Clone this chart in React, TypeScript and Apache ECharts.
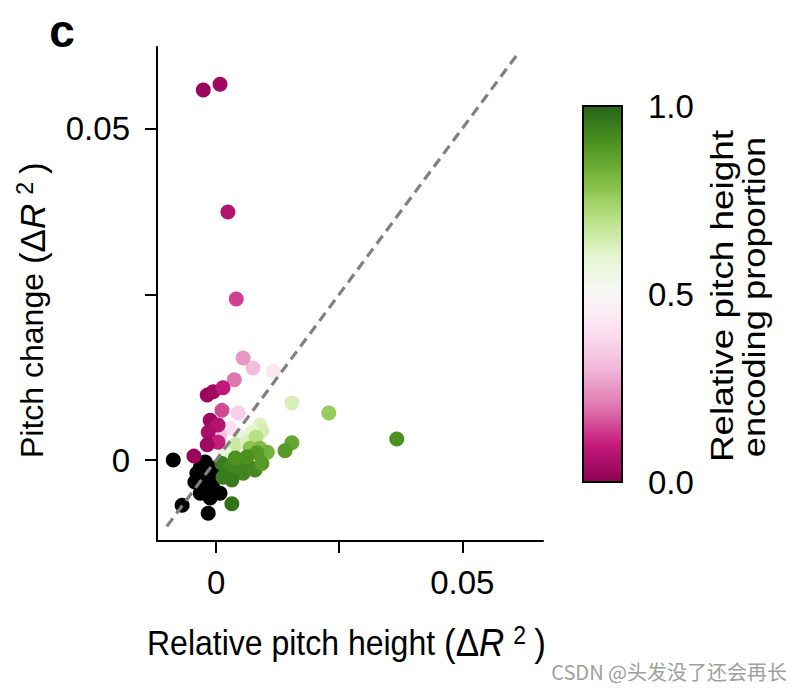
import React, { useEffect, useRef } from 'react';
import * as echarts from 'echarts';

// ---- axis ticks / limits ----
const xTickValues = [0, 0.025, 0.05];
const xLabelValues = [0, 0.05];
const yTickValues = [0, 0.025, 0.05];
const yLabelValues = [0, 0.05];
const xLimits = [-0.012, 0.0664];
const yLimits = [-0.0122, 0.0623];
const cbTickValues = [0, 0.5, 1];

// ---- significant points: relative pitch height, pitch change, encoding proportion ----
const colX = [
  0.0116, 0.0075, 0.0055, 0.0045, 0.0028, 0.0008, 0.0037,
  0.0154, 0.0089, 0.0093, 0.0073, 0.0053, 0.0039, 0.0018, 0.0063, 0.0081,
  -0.0026, 0.0008, 0.0024, 0.0041, -0.0018, -0.0006, 0.0014, 0.0012,
  -0.0012, 0.0004, -0.0016, 0.0004, -0.0018, -0.0045,
  0.0229, 0.0367, 0.0154, 0.0140, 0.0093, 0.0089, 0.0104, 0.0069,
  0.0055, 0.0069, 0.0022, 0.0045, 0.0012, 0.0028, 0.0014, 0.0055,
  0.0083, 0.0032, 0.0039, 0.0063, 0.0079, 0.0032, 0.0093,
];
const colY = [
  0.0134, 0.0139, 0.0154, 0.0071, 0.0048, 0.0038, 0.0121,
  0.0086, 0.0053, 0.0044, 0.0042, 0.0033, 0.0023, 0.0011, 0.0027, 0.0035,
  0.0558, 0.0567, 0.0374, 0.0243, 0.0098, 0.0103, 0.0109, 0.0075,
  0.0060, 0.0053, 0.0042, 0.0027, 0.0023, 0.0006,
  0.0071, 0.0032, 0.0026, 0.0014, 0.0011, 0.0018, 0.0012, 0.0018,
  0.0000, -0.0011, -0.0015, -0.0015, -0.0005, -0.0011, -0.0026, -0.0020,
  0.0011, -0.0066, 0.0003, 0.0005, -0.0015, -0.0030, -0.0005,
];
const colP = [
  0.44, 0.32, 0.25, 0.36, 0.40, 0.33, 0.20,
  0.63, 0.62, 0.64, 0.60, 0.58, 0.66, 0.58, 0.62, 0.70,
  0.02, 0.03, 0.07, 0.14, 0.02, 0.03, 0.09, 0.15,
  0.03, 0.07, 0.05, 0.10, 0.03, 0.02,
  0.76, 0.90, 0.85, 0.88, 0.83, 0.80, 0.82, 0.78,
  0.92, 0.93, 0.94, 0.92, 0.95, 0.93, 0.95, 0.93,
  0.88, 0.97, 0.90, 0.90, 0.92, 0.95, 0.88,
];

// ---- non-significant points (black) ----
const nsX = [-0.0087, -0.0022, -0.0032, -0.0039, -0.0016, -0.0006, -0.0026, -0.0006, -0.0032, 0.0008, -0.0012, -0.0069, -0.0016, -0.0002, -0.0022, -0.0043];
const nsY = [0.0000, -0.0003, -0.0011, -0.0020, -0.0018, -0.0026, -0.0035, -0.0042, -0.0050, -0.0050, -0.0057, -0.0068, -0.0080, -0.0012, -0.0045, -0.0033];

// ---- identity line ----
const diagX = [-0.0100, 0.0614];
const diagY = [-0.0100, 0.0614];

// PiYG colormap
const piyg = ['#8e0152', '#c51b7d', '#de77ae', '#f1b6da', '#fde0ef', '#f7f7f7', '#e6f5d0', '#b8e186', '#7fbc41', '#4d9221', '#276419'];

const FONT = "'Liberation Sans', Arial, Helvetica, sans-serif";

export default function App() {
  const ref = useRef<HTMLDivElement>(null);
  useEffect(() => {
    if (!ref.current) return;
    const chart = echarts.init(ref.current, null, { renderer: 'svg' });
    const axisLine = { show: true, onZero: false, lineStyle: { color: '#000', width: 2 } };
    const tickLine = { color: '#000', width: 2 };
    const labelStyle = { fontSize: 33, color: '#000', fontFamily: FONT };
    const rich = {
      m: { fontSize: 35, fontFamily: FONT, lineHeight: 38 },
      i: { fontSize: 35, fontFamily: FONT, fontStyle: 'italic', lineHeight: 38 },
      s: { fontSize: 23, fontFamily: FONT, verticalAlign: 'top', padding: [0, 8, 0, 9] },
    };
    const option: any = {
      animation: false,
      backgroundColor: '#fff',
      textStyle: { fontFamily: FONT, color: '#000' },
      grid: [
        { left: 157, top: 47, width: 386, height: 494, outerBoundsMode: 'none', containLabel: false },
        { left: 583, top: 106, width: 39, height: 376, outerBoundsMode: 'none', containLabel: false },
      ],
      xAxis: [
        {
          gridIndex: 0, type: 'value', min: xLimits[0], max: xLimits[1],
          axisLine,
          axisTick: { show: true, length: 12, customValues: xTickValues, lineStyle: tickLine },
          axisLabel: { show: true, customValues: xLabelValues, margin: 25, ...labelStyle, formatter: (v: number) => String(v) },
          splitLine: { show: false },
        },
        { gridIndex: 1, type: 'value', show: false, min: 0, max: 1 },
      ],
      yAxis: [
        {
          gridIndex: 0, type: 'value', min: yLimits[0], max: yLimits[1],
          axisLine,
          axisTick: { show: true, length: 12, customValues: yTickValues, lineStyle: tickLine },
          axisLabel: { show: true, customValues: yLabelValues, margin: 27, ...labelStyle, formatter: (v: number) => String(v) },
          splitLine: { show: false },
        },
        {
          gridIndex: 1, type: 'value', position: 'right', min: 0, max: 1,
          axisLine: { show: false },
          axisTick: { show: true, length: 13, customValues: cbTickValues, lineStyle: tickLine },
          axisLabel: { show: true, customValues: cbTickValues, margin: 26, ...labelStyle, formatter: (v: number) => v.toFixed(1) },
          splitLine: { show: false },
        },
      ],
      visualMap: {
        type: 'continuous', min: 0, max: 1, dimension: 2, seriesIndex: 1,
        inRange: { color: piyg },
        orient: 'vertical', left: 583, top: 106, itemWidth: 39, itemHeight: 376,
        padding: 0, calculable: false, hoverLink: false, show: true,
      },
      series: [
        {
          type: 'scatter', xAxisIndex: 0, yAxisIndex: 0, z: 2,
          data: nsX.map((x, i) => [x, nsY[i]]),
          symbolSize: 15, itemStyle: { color: '#000', opacity: 1 },
        },
        {
          type: 'scatter', xAxisIndex: 0, yAxisIndex: 0, z: 3,
          data: colX.map((x, i) => [x, colY[i], colP[i]]),
          symbolSize: 15, itemStyle: { opacity: 1 },
        },
        {
          type: 'line', xAxisIndex: 0, yAxisIndex: 0, z: 4, silent: true,
          data: diagX.map((x, i) => [x, diagY[i]]),
          symbol: 'none',
          lineStyle: { color: '#808080', width: 3.2, type: [10, 6] },
        },
      ],
      graphic: [
        {
          type: 'text', x: 62, y: 31,
          style: { text: 'c', fontSize: 46, fontWeight: 'bold', fontFamily: FONT, fill: '#000', align: 'center', verticalAlign: 'middle' },
        },
        {
          type: 'text', x: 147, y: 643, scaleY: 1.1,
          style: {
            text: 'Relative pitch height {m|(Δ}{i|R}{s|2}{m|)}',
            fontSize: 32, lineHeight: 38, fontFamily: FONT, fill: '#000', align: 'left', verticalAlign: 'middle', rich,
          },
        },
        {
          type: 'text', x: 32, y: 458, rotation: Math.PI / 2,
          style: {
            text: 'Pitch change {m|(Δ}{i|R}{s|2}{m|)}',
            fontSize: 32, lineHeight: 38, fontFamily: FONT, fill: '#000', align: 'left', verticalAlign: 'middle', rich,
          },
        },
        {
          type: 'text', x: 722, y: 296, rotation: Math.PI / 2, scaleX: 1.19,
          style: { text: 'Relative pitch height', fontSize: 31, fontFamily: FONT, fill: '#000', align: 'center', verticalAlign: 'middle' },
        },
        {
          type: 'text', x: 754, y: 297, rotation: Math.PI / 2, scaleX: 1.17,
          style: { text: 'encoding proportion', fontSize: 31, fontFamily: FONT, fill: '#000', align: 'center', verticalAlign: 'middle' },
        },
        {
          type: 'rect', z: 100,
          shape: { x: 583, y: 106, width: 39, height: 376 },
          style: { fill: 'none', stroke: '#000', lineWidth: 2 },
        },
        {
          type: 'text', x: 787, y: 671,
          style: { text: 'CSDN @头发没了还会再长', fontSize: 20, fontFamily: "'Noto Sans CJK SC', sans-serif", fill: '#a0a0a0', align: 'right', verticalAlign: 'middle' },
        },
      ],
    };
    chart.setOption(option);
    return () => chart.dispose();
  }, []);
  return <div ref={ref} style={{ position: 'absolute', left: 0, top: 0, width: 802, height: 692, background: '#fff' }} />;
}
